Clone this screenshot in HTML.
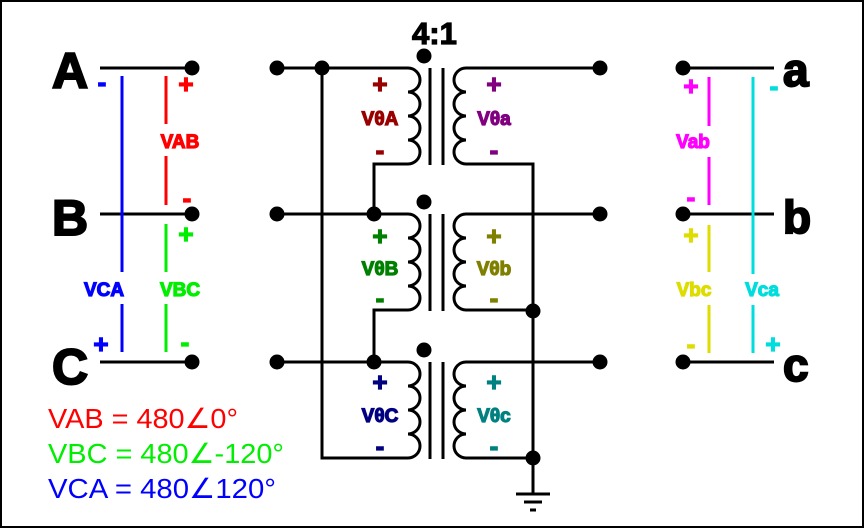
<!DOCTYPE html>
<html><head><meta charset="utf-8"><style>
html,body{margin:0;padding:0;background:#fff}
svg{display:block}
text{font-family:"Liberation Sans",Arial,sans-serif}
</style></head><body>
<svg width="864" height="528" viewBox="0 0 864 528" xmlns="http://www.w3.org/2000/svg">
<rect x="1" y="1" width="862" height="526" fill="#fff" stroke="#000" stroke-width="2"/>
<g stroke="#000" stroke-width="3" fill="none">
<line x1="100" y1="68" x2="192" y2="68"/>
<line x1="100" y1="214" x2="192" y2="214"/>
<line x1="100" y1="362" x2="192" y2="362"/>
<line x1="683" y1="68" x2="774" y2="68"/>
<line x1="683" y1="214" x2="774" y2="214"/>
<line x1="683" y1="362" x2="774" y2="362"/>
<path d="M277 68 H408 a12 12 0 0 1 0 24 a12 12 0 0 1 0 24 a12 12 0 0 1 0 24 a12 12 0 0 1 0 24 H374 V214"/>
<path d="M277 214 H408 a12 12 0 0 1 0 24 a12 12 0 0 1 0 24 a12 12 0 0 1 0 24 a12 12 0 0 1 0 24 H374 V362"/>
<path d="M277 362 H408 a12 12 0 0 1 0 24 a12 12 0 0 1 0 24 a12 12 0 0 1 0 24 a12 12 0 0 1 0 24 H322 V68"/>
<path d="M600 68 H466 a12 12 0 0 0 0 24 a12 12 0 0 0 0 24 a12 12 0 0 0 0 24 a12 12 0 0 0 0 24 H533 V494"/>
<path d="M600 214 H466 a12 12 0 0 0 0 24 a12 12 0 0 0 0 24 a12 12 0 0 0 0 24 a12 12 0 0 0 0 24 H533"/>
<path d="M600 362 H466 a12 12 0 0 0 0 24 a12 12 0 0 0 0 24 a12 12 0 0 0 0 24 a12 12 0 0 0 0 24 H533"/>
<line x1="430" y1="68" x2="430" y2="165"/><line x1="443" y1="68" x2="443" y2="165"/>
<line x1="430" y1="214" x2="430" y2="311"/><line x1="443" y1="214" x2="443" y2="311"/>
<line x1="430" y1="362" x2="430" y2="459"/><line x1="443" y1="362" x2="443" y2="459"/>
<line x1="516" y1="494" x2="550" y2="494"/>
<line x1="524" y1="502" x2="542" y2="502"/>
<line x1="530" y1="510" x2="536" y2="510"/>
</g>
<g fill="#000">
<circle cx="192" cy="68" r="7.5"/><circle cx="192" cy="214" r="7.5"/><circle cx="192" cy="362" r="7.5"/>
<circle cx="683" cy="68" r="7.5"/><circle cx="683" cy="214" r="7.5"/><circle cx="683" cy="362" r="7.5"/>
<circle cx="277" cy="68" r="7.5"/><circle cx="322" cy="68" r="7.5"/>
<circle cx="277" cy="214" r="7.5"/><circle cx="374" cy="214" r="7.5"/>
<circle cx="277" cy="362" r="7.5"/><circle cx="374" cy="362" r="7.5"/>
<circle cx="600" cy="68" r="7.5"/><circle cx="600" cy="214" r="7.5"/><circle cx="600" cy="362" r="7.5"/>
<circle cx="533" cy="311" r="7.5"/><circle cx="533" cy="458" r="7.5"/>
<circle cx="424" cy="56" r="7.5"/><circle cx="424" cy="202" r="7.5"/><circle cx="424" cy="350" r="7.5"/>
</g>
<g stroke-width="3">
<line x1="122" y1="76" x2="122" y2="272" stroke="#0000ff"/><line x1="122" y1="304" x2="122" y2="352" stroke="#0000ff"/>
<line x1="166" y1="76" x2="166" y2="124" stroke="#ff0000"/><line x1="166" y1="156" x2="166" y2="205" stroke="#ff0000"/>
<line x1="166" y1="224" x2="166" y2="272" stroke="#00ee00"/><line x1="166" y1="304" x2="166" y2="352" stroke="#00ee00"/>
<line x1="709" y1="77" x2="709" y2="126" stroke="#ff00ff"/><line x1="709" y1="157" x2="709" y2="205" stroke="#ff00ff"/>
<line x1="709" y1="225" x2="709" y2="272" stroke="#dddd00"/><line x1="709" y1="305" x2="709" y2="353" stroke="#dddd00"/>
<line x1="753" y1="77" x2="753" y2="274" stroke="#00dddd"/><line x1="753" y1="305" x2="753" y2="353" stroke="#00dddd"/>
</g>
<g font-weight="bold" fill="#000" stroke="#000" stroke-width="2">
<text x="52" y="88" font-size="50">A</text>
<text x="52" y="235" font-size="50">B</text>
<text x="52" y="384" font-size="50">C</text>
<text x="783" y="86" font-size="46">a</text>
<text x="783" y="233" font-size="46">b</text>
<text x="783" y="381" font-size="46">c</text>
<text x="412" y="44" font-size="31" stroke-width="1.2">4:1</text>
</g>
<g font-weight="bold" font-size="19" text-anchor="middle" stroke-width="1.2">
<text x="102" y="91" fill="#0000ff" stroke="#0000ff" font-size="26">-</text>
<text x="101" y="353" fill="#0000ff" stroke="#0000ff" font-size="26">+</text>
<text x="104" y="296" fill="#0000ff" stroke="#0000ff">VCA</text>
<text x="186" y="93" fill="#ff0000" stroke="#ff0000" font-size="26">+</text>
<text x="180" y="148" fill="#ff0000" stroke="#ff0000">VAB</text>
<text x="187" y="207" fill="#ff0000" stroke="#ff0000" font-size="26">-</text>
<text x="186" y="243" fill="#00ee00" stroke="#00ee00" font-size="26">+</text>
<text x="180" y="296" fill="#00ee00" stroke="#00ee00">VBC</text>
<text x="185" y="351" fill="#00ee00" stroke="#00ee00" font-size="26">-</text>
<text x="691" y="95" fill="#ff00ff" stroke="#ff00ff" font-size="26">+</text>
<text x="693" y="148" fill="#ff00ff" stroke="#ff00ff">Vab</text>
<text x="691" y="206" fill="#ff00ff" stroke="#ff00ff" font-size="26">-</text>
<text x="691" y="244" fill="#dddd00" stroke="#dddd00" font-size="26">+</text>
<text x="694" y="296" fill="#dddd00" stroke="#dddd00">Vbc</text>
<text x="691" y="353" fill="#dddd00" stroke="#dddd00" font-size="26">-</text>
<text x="774" y="95" fill="#00dddd" stroke="#00dddd" font-size="26">-</text>
<text x="773" y="353" fill="#00dddd" stroke="#00dddd" font-size="26">+</text>
<text x="762" y="296" fill="#00dddd" stroke="#00dddd">Vca</text>

<text x="380" y="93" fill="#990000" stroke="#990000" font-size="26">+</text>
<text x="380" y="125" fill="#990000" stroke="#990000">VθA</text>
<text x="380" y="159" fill="#990000" stroke="#990000" font-size="26">-</text>
<text x="494" y="93" fill="#800080" stroke="#800080" font-size="26">+</text>
<text x="494" y="125" fill="#800080" stroke="#800080">Vθa</text>
<text x="494" y="159" fill="#800080" stroke="#800080" font-size="26">-</text>

<text x="380" y="245" fill="#008000" stroke="#008000" font-size="26">+</text>
<text x="380" y="275" fill="#008000" stroke="#008000">VθB</text>
<text x="380" y="307" fill="#008000" stroke="#008000" font-size="26">-</text>
<text x="494" y="245" fill="#808000" stroke="#808000" font-size="26">+</text>
<text x="494" y="275" fill="#808000" stroke="#808000">Vθb</text>
<text x="494" y="307" fill="#808000" stroke="#808000" font-size="26">-</text>

<text x="380" y="391" fill="#000080" stroke="#000080" font-size="26">+</text>
<text x="380" y="422" fill="#000080" stroke="#000080">VθC</text>
<text x="380" y="455" fill="#000080" stroke="#000080" font-size="26">-</text>
<text x="494" y="391" fill="#008080" stroke="#008080" font-size="26">+</text>
<text x="494" y="422" fill="#008080" stroke="#008080">Vθc</text>
<text x="494" y="455" fill="#008080" stroke="#008080" font-size="26">-</text>
</g>
<g font-size="28">
<text x="48" y="428" fill="#ff0000" textLength="190" lengthAdjust="spacingAndGlyphs">VAB = 480∠0°</text>
<text x="48" y="463" fill="#00ee00" textLength="236" lengthAdjust="spacingAndGlyphs">VBC = 480∠-120°</text>
<text x="48" y="498" fill="#0000ff" textLength="228" lengthAdjust="spacingAndGlyphs">VCA = 480∠120°</text>
</g>
</svg>
</body></html>
